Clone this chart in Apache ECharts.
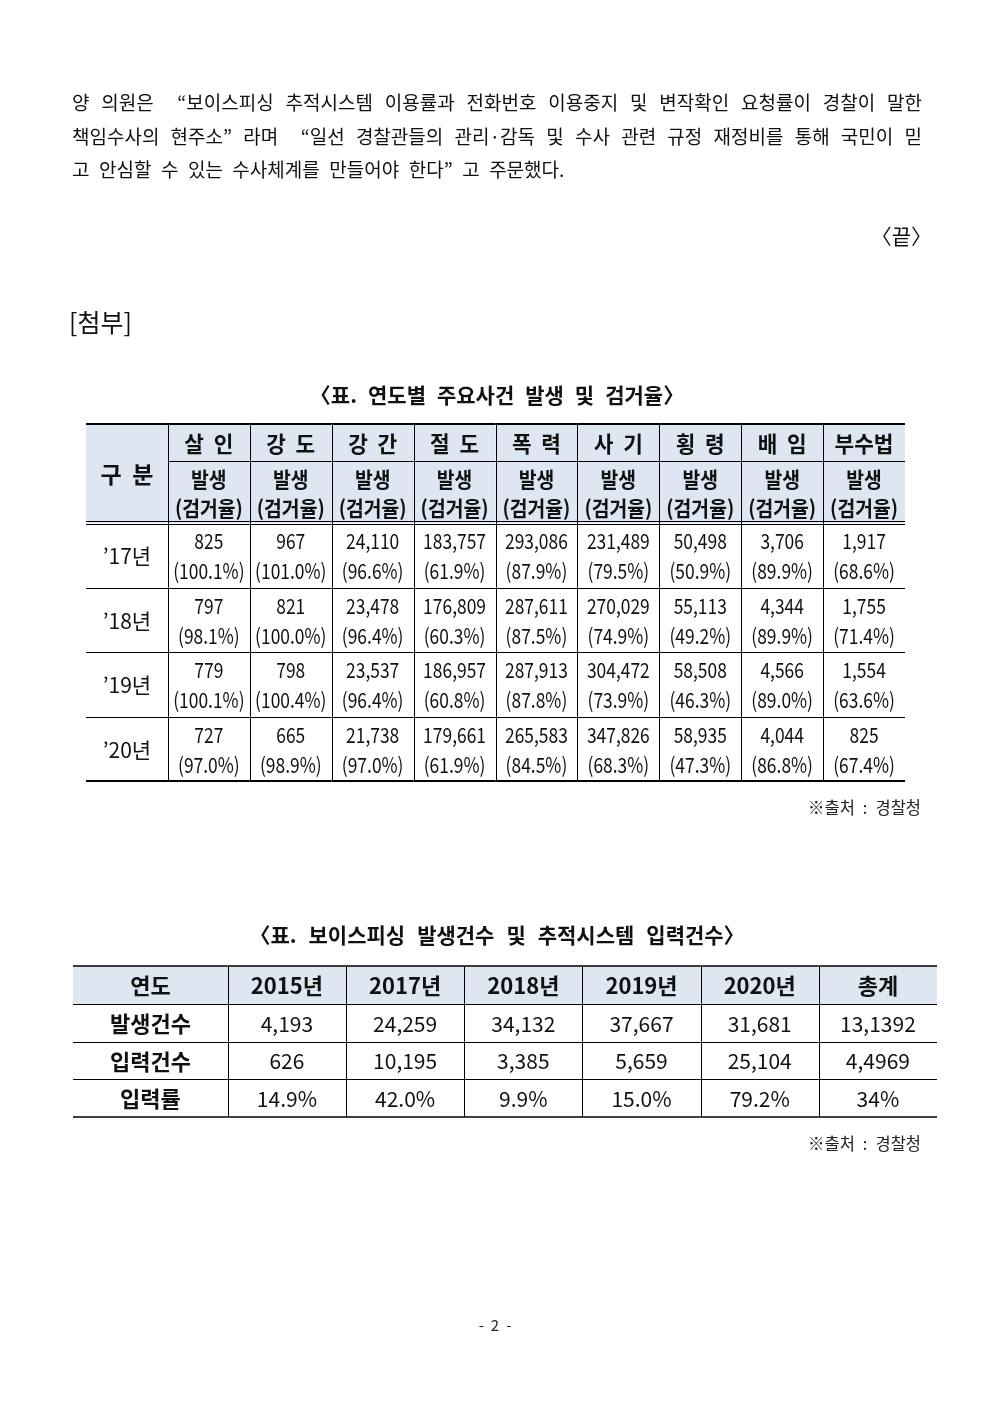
<!DOCTYPE html>
<html><head><meta charset="utf-8">
<script src="https://cdn.jsdelivr.net/npm/echarts@6/dist/echarts.min.js"></script>
<style>html,body{margin:0;padding:0;background:#fff}#c{width:992px;height:1403px}</style>
</head><body><div id="c"></div>
<script>
// ---------- data ----------
const CRIMES = ['살 인','강 도','강 간','절 도','폭 력','사 기','횡 령','배 임','부수법'];
const YEAR_LABELS = ['’17년','’18년','’19년','’20년'];
const OCC_17 = [825, 967, 24110, 183757, 293086, 231489, 50498, 3706, 1917];
const RATE_17 = [100.1, 101.0, 96.6, 61.9, 87.9, 79.5, 50.9, 89.9, 68.6];
const OCC_18 = [797, 821, 23478, 176809, 287611, 270029, 55113, 4344, 1755];
const RATE_18 = [98.1, 100.0, 96.4, 60.3, 87.5, 74.9, 49.2, 89.9, 71.4];
const OCC_19 = [779, 798, 23537, 186957, 287913, 304472, 58508, 4566, 1554];
const RATE_19 = [100.1, 100.4, 96.4, 60.8, 87.8, 73.9, 46.3, 89.0, 63.6];
const OCC_20 = [727, 665, 21738, 179661, 265583, 347826, 58935, 4044, 825];
const RATE_20 = [97.0, 98.9, 97.0, 61.9, 84.5, 68.3, 47.3, 86.8, 67.4];

const VP_HEAD = '연도';
const VP_YEARS = ['2015년','2017년','2018년','2019년','2020년','총계'];
const VP_ROWS = ['발생건수','입력건수','입력률'];
const VP_OCCUR = ['4,193','24,259','34,132','37,667','31,681','13,1392'];
const VP_INPUT = ['626','10,195','3,385','5,659','25,104','4,4969'];
const VP_RATE = ['14.9%','42.0%','9.9%','15.0%','79.2%','34%'];

const BODY_LINES = [
  '양 의원은  “보이스피싱 추적시스템 이용률과 전화번호 이용중지 및 변작확인 요청률이 경찰이 말한',
  '책임수사의 현주소” 라며  “일선 경찰관들의 관리·감독 및 수사 관련 규정 재정비를 통해 국민이 믿',
  '고 안심할 수 있는 수사체계를 만들어야 한다” 고 주문했다.'
];
const END_MARK = '〈끝〉';
const ATTACH = '[첨부]';
const TITLE1 = '〈표. 연도별 주요사건 발생 및 검거율〉';
const TITLE2 = '〈표. 보이스피싱 발생건수 및 추적시스템 입력건수〉';
const SOURCE = '※출처 : 경찰청';
const PAGE = '- 2 -';

// ---------- layout ----------
const FONT = '"Noto Sans CJK KR", "Noto Sans", sans-serif';
const HEAD_BG = '#dde6f1';
const INK = '#111';
const COL_EDGES1 = [0,1,2,3,4,5,6,7,8,9,10];
const ROW_EDGES1 = [0, 0.575, 1.54, 2.54, 3.54, 4.54, 5.54];
const COL_EDGES2 = [0, 1.31, 2.31, 3.31, 4.31, 5.31, 6.31, 7.31];
const ROW_EDGES2 = [0, 1, 2, 3, 4];

const OCC = [OCC_17, OCC_18, OCC_19, OCC_20];
const RATE = [RATE_17, RATE_18, RATE_19, RATE_20];
const fmt = n => n.toLocaleString('en-US');

// table 1 cells
const cells1 = [];
cells1.push({c:0, r:0, rs:2, text:'구  분', bg:HEAD_BG, size:23, weight:'bold', bottom:'double', top:true});
CRIMES.forEach((n, i) => {
  cells1.push({c:i+1, r:0, text:n.replace(' ', '  '), bg:HEAD_BG, size:22, weight:'bold', bottom:'normal', top:true, sx:0.97});
  cells1.push({c:i+1, r:1, text:'발생\n(검거율)', bg:HEAD_BG, size:21, weight:'bold', lh:29, bottom:'double', sx:0.92});
});
YEAR_LABELS.forEach((y, j) => {
  const b = j === YEAR_LABELS.length - 1 ? 'thick' : 'normal';
  cells1.push({c:0, r:2+j, text:y, size:21, bottom:b});
  CRIMES.forEach((n, i) => {
    cells1.push({c:i+1, r:2+j, text:fmt(OCC[j][i]) + '\n(' + RATE[j][i].toFixed(1) + '%)', size:21, lh:30, bottom:b, sx:0.83});
  });
});

// table 2 cells
const cells2 = [];
cells2.push({c:0, r:0, text:VP_HEAD, bg:HEAD_BG, size:22, weight:'bold', bottom:'normal', top:true});
VP_YEARS.forEach((y, i) => cells2.push({c:i+1, r:0, text:y, bg:HEAD_BG, size:22, weight:'bold', bottom:'normal', top:true}));
[VP_OCCUR, VP_INPUT, VP_RATE].forEach((arr, j) => {
  const b = j === 2 ? 'thick' : 'normal';
  cells2.push({c:0, r:j+1, text:VP_ROWS[j], size:22, weight:'bold', bottom:b});
  arr.forEach((v, i) => cells2.push({c:i+1, r:j+1, text:v, size:21, bottom:b}));
});

function cellData(cells, ce, re) {
  return cells.map(c => [ce[c.c], re[c.r], ce[c.c + (c.cs || 1)], re[c.r + (c.rs || 1)]]);
}
const px = v => Math.round(v) + 0.5;
function hline(xa, xb, y, w) {
  return {type:'line', z2:10, shape:{x1:xa, y1:y, x2:xb, y2:y}, style:{stroke:'#000', lineWidth:w}};
}
function vline(x, ya, yb, w) {
  return {type:'line', z2:10, shape:{x1:x, y1:ya, x2:x, y2:yb}, style:{stroke:'#000', lineWidth:w}};
}
function makeRender(cells, tw, bw) {
  return function (params, api) {
    const cell = cells[params.dataIndex];
    const p0 = api.coord([api.value(0), api.value(1)]);
    const p1 = api.coord([api.value(2), api.value(3)]);
    const x0 = p0[0], y0 = p0[1], x1 = p1[0], y1 = p1[1];
    const ch = [];
    if (cell.bg) ch.push({type:'rect', z2:0, shape:{x:x0, y:y0, width:x1-x0, height:y1-y0}, style:{fill:cell.bg}});
    if (cell.c > 0) ch.push(vline(px(x0), y0, y1, 1));
    if (cell.top) ch.push(hline(x0, x1, Math.round(y0), tw));
    if (cell.bottom === 'normal') ch.push(hline(x0, x1, px(y1), 1));
    else if (cell.bottom === 'double') { ch.push(hline(x0, x1, px(y1 - 1.8), 1)); ch.push(hline(x0, x1, px(y1 + 1.2), 1)); }
    else if (cell.bottom === 'thick') ch.push(hline(x0, x1, Math.round(y1), bw));
    ch.push({type:'text', z2:20, x:(x0+x1)/2, y:(y0+y1)/2 + 1, scaleX:cell.sx || 1,
      style:{text:cell.text, fontSize:cell.size, fontWeight:cell.weight || 'normal', fontFamily:FONT,
        lineHeight:cell.lh || cell.size * 1.3, fill:INK, align:'center', verticalAlign:'middle'}});
    return {type:'group', children:ch};
  };
}

// ---------- free text (word placement) ----------
const mctx = document.createElement('canvas').getContext('2d');
function placeWords(line, o) {
  const weight = o.weight || 'normal';
  mctx.font = weight + ' ' + o.size + 'px ' + FONT;
  const parts = line.split(/( +)/);
  const words = [], gaps = [];
  parts.forEach(p => { if (/^ +$/.test(p)) gaps.push(p.length); else if (p.length) words.push(p); });
  const widths = words.map(w => mctx.measureText(w).width);
  const sum = widths.reduce((a, b) => a + b, 0);
  const gw = gaps.reduce((a, b) => a + b, 0);
  let unit = o.gap;
  if (o.mode === 'justify') unit = (o.x1 - o.x0 - sum) / gw;
  const total = sum + unit * gw;
  let x = o.mode === 'center' ? o.cx - total / 2 : (o.mode === 'right' ? o.x1 - total : o.x0);
  return words.map((w, i) => {
    const el = {type:'text', x:x, y:o.y, silent:true,
      style:{text:w, fontSize:o.size, fontWeight:weight, fontFamily:FONT, fill:o.fill || INK, align:'left', verticalAlign:'middle'}};
    x += widths[i] + (i < gaps.length ? gaps[i] * unit : 0);
    return el;
  });
}
const graphics = [];
graphics.push(...placeWords(BODY_LINES[0], {x0:72, x1:922, y:103, size:19, mode:'justify'}));
graphics.push(...placeWords(BODY_LINES[1], {x0:72, x1:922, y:137, size:19, mode:'justify'}));
graphics.push(...placeWords(BODY_LINES[2], {x0:72, y:170, size:19, gap:9.5, mode:'left'}));
graphics.push(...placeWords(END_MARK, {x1:932, y:236, size:21, gap:7, mode:'right'}));
graphics.push(...placeWords(ATTACH, {x0:69, y:322, size:25, gap:7, mode:'left'}));
graphics.push(...placeWords(TITLE1, {cx:497, y:395, size:21, weight:'bold', gap:11, mode:'center'}));
graphics.push(...placeWords(SOURCE, {x1:921, y:808, size:16.5, gap:8, mode:'right', fill:'#222'}));
graphics.push(...placeWords(TITLE2, {cx:497, y:935, size:21, weight:'bold', gap:12, mode:'center'}));
graphics.push(...placeWords(SOURCE, {x1:921, y:1144, size:16.5, gap:8, mode:'right', fill:'#222'}));
graphics.push(...placeWords(PAGE, {cx:495, y:1325, size:15, gap:7, mode:'center', fill:'#222'}));

// ---------- chart ----------
const chart = echarts.init(document.getElementById('c'), null, {renderer:'canvas'});
chart.setOption({
  animation:false,
  backgroundColor:'#fff',
  grid:[
    {left:86, top:424, width:819, height:357, show:false},
    {left:73, top:966, width:864, height:151, show:false}
  ],
  xAxis:[
    {type:'value', gridIndex:0, min:0, max:COL_EDGES1[COL_EDGES1.length-1], show:false},
    {type:'value', gridIndex:1, min:0, max:COL_EDGES2[COL_EDGES2.length-1], show:false}
  ],
  yAxis:[
    {type:'value', gridIndex:0, min:0, max:ROW_EDGES1[ROW_EDGES1.length-1], inverse:true, show:false},
    {type:'value', gridIndex:1, min:0, max:ROW_EDGES2[ROW_EDGES2.length-1], inverse:true, show:false}
  ],
  graphic:{elements:graphics},
  series:[
    {type:'custom', xAxisIndex:0, yAxisIndex:0, clip:false, silent:true,
      encode:{x:[0,2], y:[1,3]}, renderItem:makeRender(cells1, 2, 2),
      data:cellData(cells1, COL_EDGES1, ROW_EDGES1)},
    {type:'custom', xAxisIndex:1, yAxisIndex:1, clip:false, silent:true,
      encode:{x:[0,2], y:[1,3]}, renderItem:makeRender(cells2, 1.5, 1.5),
      data:cellData(cells2, COL_EDGES2, ROW_EDGES2)}
  ]
});
</script></body></html>
